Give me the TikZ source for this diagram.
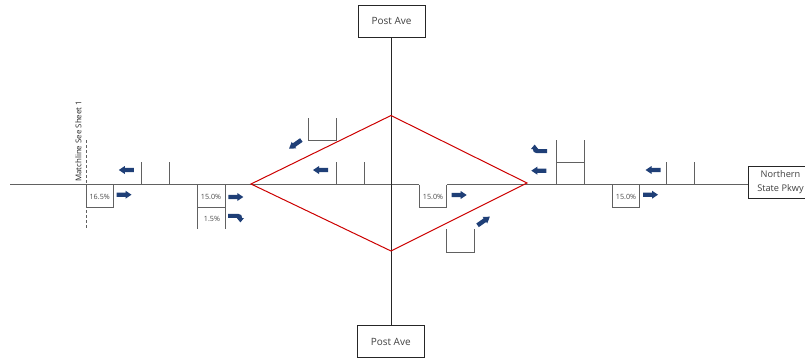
\documentclass[tikz,border=0pt]{standalone}
\usepackage{fontspec}
\setmainfont{Open Sans}
\definecolor{navyarrow}{HTML}{1F3F77}
\tikzset{
  road/.style={draw=black!62,line width=1.25pt},
  cross/.style={draw=black!85,line width=1pt},
  lane/.style={draw=black!62,line width=1pt},
  ramp/.style={draw=red!80!black,line width=1pt,line join=miter},
  street/.style={draw=black!85,fill=white,line width=1pt,align=center,font=\fontsize{10}{14}\selectfont,text=black!75,inner sep=0pt},
  pct/.style={font=\fontsize{7.2}{8}\selectfont,text=black!72,inner sep=0pt},
  straightarrow/.pic={\fill[navyarrow] (-7.5,-2.2) -- (1.5,-2.2) -- (1.5,-4) -- (7.5,0) -- (1.5,4) -- (1.5,2.2) -- (-7.5,2.2) -- cycle;},
  rightturn/.pic={\fill[navyarrow] (-8,-4.2) -- (2,-4.2) .. controls (5,-4.2) and (6.2,-2.5) .. (6.2,0) -- (8,0) -- (4.4,4.4) -- (0.8,0) -- (2.6,0) .. controls (2.6,-0.2) and (2,-0.2) .. (1.5,-0.2) -- (-8,-0.2) -- cycle;},
  leftturn/.pic={\fill[navyarrow] (8,4.2) -- (-2,4.2) .. controls (-5,4.2) and (-6.2,2.5) .. (-6.2,0) -- (-8,0) -- (-4.4,-4.4) -- (-0.8,0) -- (-2.6,0) .. controls (-2.6,0.2) and (-2,0.2) .. (-1.5,0.2) -- (8,0.2) -- cycle;},
}
\begin{document}
\begin{tikzpicture}[x=1pt,y=-1pt]
\useasboundingbox (0,0) rectangle (805,362);
\clip (0,0) rectangle (805,362);
% street boxes
\node[street,minimum width=67pt,minimum height=32pt] (top) at (391.5,21) {Post Ave};
\node[street,minimum width=67pt,minimum height=32pt] (bot) at (390.7,341.5) {Post Ave};
\node[street,font=\fontsize{9.2}{14}\selectfont,minimum width=65pt,minimum height=31.5pt] (nsp) at (780.5,182.5) {Northern\\State Pkwy};
% corner coordinates
\coordinate (w) at (10,184.5);
\coordinate (g1) at (419,184.5);
\coordinate (g1b) at (419,207);
\coordinate (g2b) at (446.5,207);
\coordinate (g2) at (446.5,184.5);
\coordinate (e) at (nsp.west |- 0,184.5);
% main roads
\draw[road] (w) -- (g1);
\draw[lane] (g1) -- (g1b) -- (g2b) -- (g2);
\draw[road] (g2) -- (e);
\draw[cross] (top.south) -- (top.south |- bot.north);
% lane boxes
\draw[lane] (86,184.5) -- (86,207) -- (113.5,207) -- (113.5,184.5);
\draw[lane] (197,184.5) -- (197,229);
\draw[lane] (225,184.5) -- (225,229);
\draw[lane] (197,207) -- (225,207);
\draw[lane] (612,184.5) -- (612,207) -- (639.5,207) -- (639.5,184.5);
\draw[lane] (141,162) -- (141,184.5);
\draw[lane] (169,162) -- (169,184.5);
\draw[lane] (336.5,162) -- (336.5,184.5);
\draw[lane] (364,162) -- (364,184.5);
\draw[lane] (666.5,162) -- (666.5,184.5);
\draw[lane] (694.5,162) -- (694.5,184.5);
\draw[lane] (556.5,140) -- (556.5,184.5);
\draw[lane] (584,140) -- (584,184.5);
\draw[lane] (556.5,162) -- (584,162);
\draw[lane] (308.5,118) -- (308.5,140) -- (336.5,140) -- (336.5,118);
\draw[lane] (446.5,229) -- (446.5,252) -- (474,252) -- (474,229);
% matchline
\draw[lane,dash pattern=on 3pt off 2pt] (86,140) -- (86,229.5);
\node[rotate=90,anchor=west,font=\fontsize{7.9}{9}\selectfont,text=black!85,inner sep=0pt] (match) at (78.5,182) {Matchline See Sheet 1};
% ramps
\draw[ramp] (251,184) -- (391,115.5) -- (527,183) -- (391,251) -- cycle;
% percentages
\node[pct] (p1) at (99.7,196.5) {16.5\%};
\node[pct] (p2) at (211,196.5) {15.0\%};
\node[pct] (p3) at (212,218.5) {1.5\%};
\node[pct] (p4) at (433,196.5) {15.0\%};
\node[pct] (p5) at (626,196.5) {15.0\%};
% arrows
\pic at (126.3,170) [rotate=180] {straightarrow};
\pic at (124,194.7) {straightarrow};
\pic at (235.8,197) {straightarrow};
\pic at (236,218) {rightturn};
\pic at (320.5,170) [rotate=180] {straightarrow};
\pic at (295.2,144.3) [rotate=-145] {straightarrow};
\pic at (459.2,195) {straightarrow};
\pic at (483.7,221) [rotate=35] {straightarrow};
\pic at (539,149) {leftturn};
\pic at (538.8,170.7) [rotate=180] {straightarrow};
\pic at (653,170) [rotate=180] {straightarrow};
\pic at (650.5,194.7) {straightarrow};
\end{tikzpicture}
\end{document}
